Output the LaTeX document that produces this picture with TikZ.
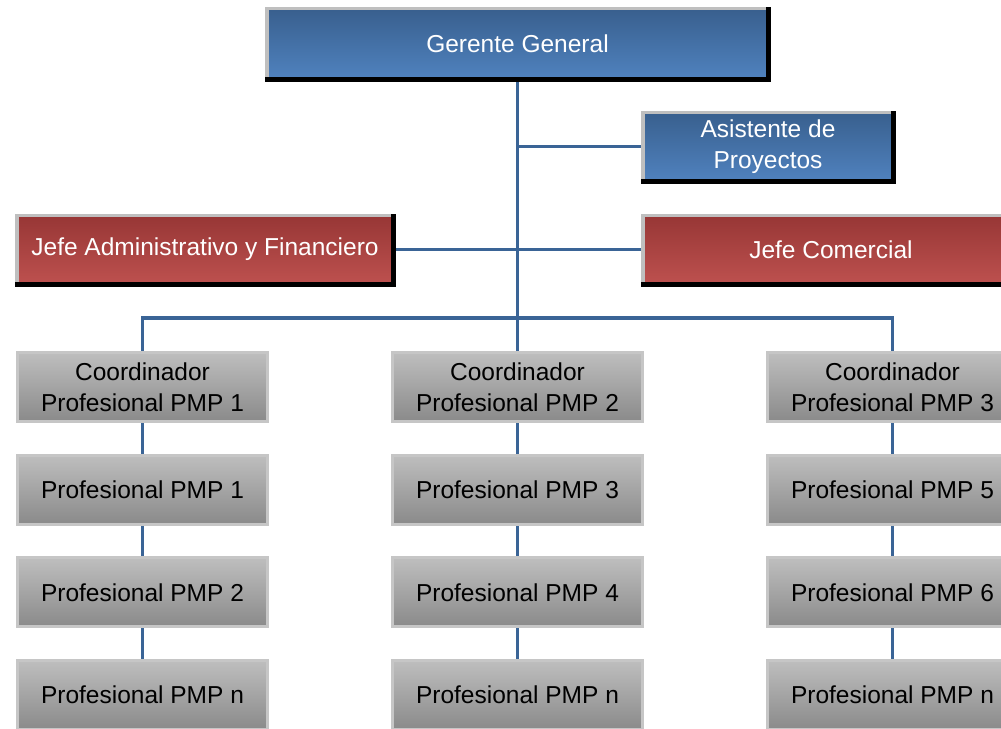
\documentclass[tikz,border=0pt]{standalone}
\usepackage{fontspec}
\setmainfont{Liberation Sans}
\usetikzlibrary{backgrounds}
\definecolor{linkblue}{HTML}{3A6496}
\definecolor{bluetop}{HTML}{39608F}
\definecolor{bluebot}{HTML}{4F81BD}
\definecolor{redtop}{HTML}{983736}
\definecolor{redbot}{HTML}{BC504E}
\definecolor{graytop}{HTML}{BEBEBE}
\definecolor{graybot}{HTML}{8A8A8A}
\definecolor{bevel}{HTML}{BFBFBF}
\definecolor{rim}{HTML}{C6C6C6}
\begin{document}
\begin{tikzpicture}[x=1pt,y=-1pt,
  txt/.style={font=\fontsize{24.5}{31}\selectfont, align=center, inner sep=0pt},
  headbox/.style={txt, text=white, minimum height=66pt},
  bluebox/.style={headbox, top color=bluetop, bottom color=bluebot},
  redbox/.style={headbox, top color=redtop, bottom color=redbot},
  staffbox/.style={txt, text=black, minimum width=250pt, minimum height=69pt,
    draw=rim, line width=3pt, top color=graytop, bottom color=graybot},
  link/.style={draw=linkblue, line width=3.5pt}]
\useasboundingbox (0,0) rectangle (1001,728);
\clip (0,0) rectangle (1001,728);

% management boxes
\node[bluebox, minimum width=497pt] (gg) at (517.5,43.5) {Gerente General};
\node[bluebox, minimum width=246pt, minimum height=65pt] (as) at (768,146.5) {Asistente de\\Proyectos};
\node[redbox, minimum width=372pt, minimum height=65pt] (ja) at (205,249.5) {Jefe Administrativo y Financiero};
\node[redbox, minimum width=372pt, minimum height=65pt] (jc) at (831,249.5) {Jefe Comercial};

% staff columns
\foreach \col/\x/\a/\b in {1/142.5/1/2, 2/517.5/3/4, 3/892.5/5/6} {
  \node[staffbox] (c\col) at (\x,387) {Coordinador\\Profesional PMP \col};
  \node[staffbox] (p\col a) at (\x,489.7) {Profesional PMP \a};
  \node[staffbox] (p\col b) at (\x,592.4) {Profesional PMP \b};
  \node[staffbox] (p\col n) at (\x,695.1) {Profesional PMP n};
}

% bevelled rims: light on top and left, black on bottom and right
\foreach \n in {gg,as,ja,jc} {
  \fill[bevel] ([xshift=-4pt,yshift=3pt]\n.north west) rectangle (\n.north east);
  \fill[bevel] ([xshift=-4pt]\n.north west) rectangle (\n.south west);
  \fill[black] ([xshift=-4pt]\n.south west) rectangle ([xshift=5pt,yshift=-5pt]\n.south east);
  \fill[black] ([yshift=3pt]\n.north east) rectangle ([xshift=5pt,yshift=-5pt]\n.south east);
}

% connectors, kept behind the boxes
\begin{scope}[on background layer]
\coordinate (bus) at (517.5,318);
\path[link] (gg.south) -- (bus);
\path[link] (as.west) -- (as.west -| gg.south);
\path[link] (ja.east) -- (jc.west);
\path[link] (c1.north) |- (bus) -| (c3.north);
\path[link] (bus) -- (c2.north);
\foreach \col in {1,2,3} {
  \path[link] (c\col.south) -- (p\col a.north);
  \path[link] (p\col a.south) -- (p\col b.north);
  \path[link] (p\col b.south) -- (p\col n.north);
}
\end{scope}
\end{tikzpicture}
\end{document}
